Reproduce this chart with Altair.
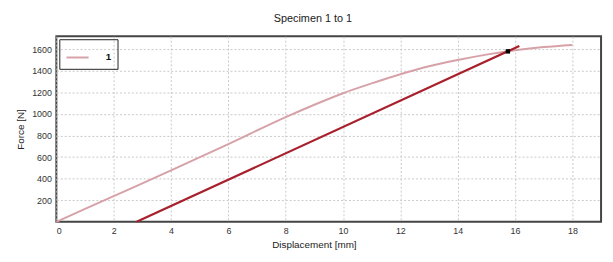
import altair as alt
import pandas as pd

# loading curve (specimen 1)
disp = [0, 2, 4, 6, 8, 9, 10, 11, 12, 13, 14, 15, 16, 17, 18]
force = [0, 238, 476, 720, 970, 1085, 1192, 1283, 1368, 1442, 1500, 1550, 1590, 1620, 1640]
series = ["1"] * len(disp)

# offset (modulus) line
off_x = [2.8, 16.15]
off_f = [0, 1630]

# marked point
pt_x = [15.75]
pt_f = [1580]

x_ticks = [0, 2, 4, 6, 8, 10, 12, 14, 16, 18]
y_ticks = [200, 400, 600, 800, 1000, 1200, 1400, 1600]

curve = pd.DataFrame({"x": disp, "f": force, "s": series})
offl = pd.DataFrame({"x": off_x, "f": off_f})
pts = pd.DataFrame({"x": pt_x, "f": pt_f})

xs = alt.Scale(domain=[0, 19], nice=False, zero=False)
ys = alt.Scale(domain=[0, 1720], nice=False)

xax = alt.Axis(values=x_ticks, title="Displacement [mm]", labelPadding=5,
               titlePadding=4, titleX=261, format="d", labelOverlap=False)
yax = alt.Axis(values=y_ticks, title="Force [N]", labelPadding=5,
               titlePadding=6, format="d", labelOverlap=False)

c1 = alt.Chart(curve).mark_line(strokeWidth=2, interpolate="monotone").encode(
    x=alt.X("x:Q", scale=xs, axis=xax), y=alt.Y("f:Q", scale=ys, axis=yax),
    color=alt.Color("s:N", scale=alt.Scale(domain=["1"], range=["#d6a2a8"]),
                    legend=alt.Legend(title=None, orient="top-left", strokeColor="#222",
                                      padding=6, offset=3, symbolType="stroke",
                                      symbolSize=500, symbolStrokeWidth=2,
                                      labelFontSize=10, labelFontWeight="bold",
                                      labelOffset=16, labelColor="#111")))

c2 = alt.Chart(offl).mark_line(strokeWidth=2.2, color="#a8202c").encode(
    x=alt.X("x:Q", scale=xs, axis=xax), y=alt.Y("f:Q", scale=ys, axis=yax))

c3 = alt.Chart(pts).mark_square(size=20, color="#000", opacity=1).encode(
    x=alt.X("x:Q", scale=xs, axis=xax), y=alt.Y("f:Q", scale=ys, axis=yax))

chart = alt.layer(c1, c2, c3).properties(
    width=552, height=188,
    title=alt.TitleParams("Specimen 1 to 1", fontSize=11, fontWeight="normal",
                          font="Liberation Sans", color="#222", dx=-16, offset=12),
    autosize=alt.AutoSizeParams(type="none"),
    padding={"left": 49, "top": 27, "right": 4, "bottom": 31},
).configure(font="Liberation Sans").configure_view(
    stroke="#444", strokeWidth=2
).configure_axis(
    ticks=False, grid=True, gridColor="#c8c8c8", gridDash=[2, 2], domain=False,
    labelFontSize=9, titleFontSize=10, titleFontWeight="normal",
    labelColor="#333", titleColor="#222", labelOverlap=False
)

chart.save("out.html", embed_options={"renderer": "svg", "actions": False})
